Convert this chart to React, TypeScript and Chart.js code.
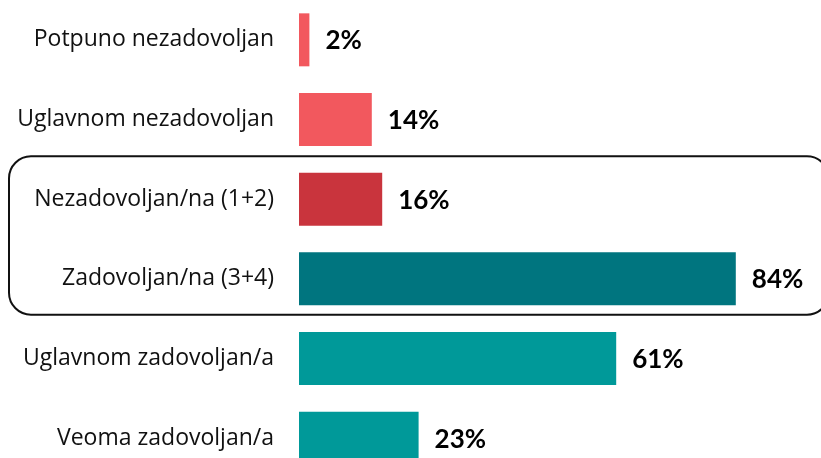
import React, { useEffect, useRef } from "react";
import { Chart, registerables } from "chart.js";

Chart.register(...registerables);

const categories = [
  "Potpuno nezadovoljan",
  "Uglavnom nezadovoljan",
  "Nezadovoljan/na (1+2)",
  "Zadovoljan/na (3+4)",
  "Uglavnom zadovoljan/a",
  "Veoma zadovoljan/a",
];
const values = [2, 14, 16, 84, 61, 23];
const barColors = ["#F2585E", "#F2585E", "#C9343D", "#00757F", "#009999", "#009999"];
const highlighted = [2, 3];

const valueLabelPlugin = {
  id: "valueLabels",
  afterDatasetsDraw(chart: any) {
    const ctx = chart.ctx;
    const meta = chart.getDatasetMeta(0);
    ctx.save();
    ctx.font = "bold 26px Lato, sans-serif";
    ctx.fillStyle = "#000";
    ctx.textAlign = "left";
    ctx.textBaseline = "middle";
    meta.data.forEach((bar: any, i: number) => {
      ctx.fillText(values[i] + "%", bar.x + 16, bar.y + 1);
    });
    ctx.restore();
  },
};

const boxPlugin = {
  id: "highlightBox",
  afterDraw(chart: any) {
    const ctx = chart.ctx;
    const y = chart.scales.y;
    const step = y.getPixelForValue(1) - y.getPixelForValue(0);
    const top = y.getPixelForValue(highlighted[0]) - step / 2 - 3;
    const bottom = y.getPixelForValue(highlighted[1]) + step / 2 - 4;
    const left = 9;
    const right = chart.width + 8;
    const r = 22;
    ctx.save();
    ctx.strokeStyle = "#111";
    ctx.lineWidth = 2;
    ctx.beginPath();
    ctx.moveTo(left + r, top);
    ctx.lineTo(right - r, top);
    ctx.arcTo(right, top, right, top + r, r);
    ctx.lineTo(right, bottom - r);
    ctx.arcTo(right, bottom, right - r, bottom, r);
    ctx.lineTo(left + r, bottom);
    ctx.arcTo(left, bottom, left, bottom - r, r);
    ctx.lineTo(left, top + r);
    ctx.arcTo(left, top, left + r, top, r);
    ctx.closePath();
    ctx.stroke();
    ctx.restore();
  },
};

export default function App() {
  const ref = useRef<HTMLCanvasElement>(null);
  useEffect(() => {
    document.body.style.margin = "0";
    document.body.style.overflow = "hidden";
    const chart = new Chart(ref.current!, {
      type: "bar",
      data: {
        labels: categories,
        datasets: [
          {
            data: values,
            backgroundColor: barColors,
            borderWidth: 0,
            barPercentage: 0.665,
            categoryPercentage: 1,
          },
        ],
      },
      options: {
        indexAxis: "y",
        responsive: true,
        maintainAspectRatio: false,
        animation: false,
        layout: { padding: { left: 0, right: 2, top: 0, bottom: 0 } },
        plugins: { legend: { display: false }, tooltip: { enabled: false } },
        scales: {
          x: { display: false, min: 0, max: 100 },
          y: {
            offset: true,
            grid: { display: false, drawTicks: false },
            border: { display: false },
            ticks: {
              padding: 25,
              color: "#111",
              font: { family: "'Open Sans', sans-serif", size: 23 },
            },
            afterFit(axis: any) {
              axis.width = 299;
              axis.paddingTop = 0;
              axis.paddingBottom = 0;
            },
          },
        },
      },
      plugins: [valueLabelPlugin, boxPlugin],
    });
    return () => chart.destroy();
  }, []);
  return (
    <div style={{ position: "fixed", left: 0, top: 0, width: 821, height: 458, overflow: "hidden", background: "#fff" }}>
      <div style={{ position: "relative", width: 821, height: 478 }}>
        <canvas ref={ref} />
      </div>
    </div>
  );
}
